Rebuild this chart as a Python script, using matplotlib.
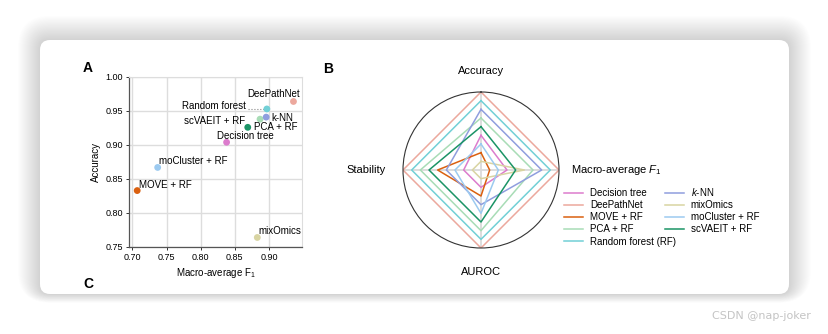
import numpy as np
import matplotlib
matplotlib.use("Agg")
import matplotlib.pyplot as plt
from matplotlib.patches import FancyBboxPatch

plt.rcParams['font.family'] = ['Liberation Sans', 'DejaVu Sans']
plt.rcParams['mathtext.fontset'] = 'custom'
plt.rcParams['mathtext.rm'] = 'Liberation Sans'
plt.rcParams['mathtext.it'] = 'Liberation Sans:italic'

# methods (legend order)
methods = ['Decision tree', 'DeePathNet', 'MOVE + RF', 'PCA + RF', 'Random forest (RF)',
           r'$k$-NN', 'mixOmics', 'moCluster + RF', 'scVAEIT + RF']
short_names = ['Decision tree', 'DeePathNet', 'MOVE + RF', 'PCA + RF', 'Random forest',
               'k-NN', 'mixOmics', 'moCluster + RF', 'scVAEIT + RF']
colors = ['#dc7ccd', '#eca89d', '#da6010', '#a8dcb6', '#72d0d6',
          '#8f9ede', '#d8d4a2', '#9ccaf0', '#1b9466']

# panel A values
macro_f1 = [0.838, 0.936, 0.707, 0.887, 0.897, 0.896, 0.883, 0.737, 0.869]
accuracy = [0.904, 0.964, 0.833, 0.938, 0.953, 0.941, 0.764, 0.867, 0.926]

# panel B: rank scores (1..9) for Accuracy, Macro F1, AUROC, Stability
rank_acc = [4, 9, 2, 6, 8, 7, 1, 3, 5]
rank_f1 = [3, 9, 1, 6, 8, 7, 5, 2, 4]
rank_auroc = [2, 9, 3, 7, 8, 4, 1, 5, 6]
rank_stab = [2, 9, 5, 7, 8, 4, 1, 3, 6]
n_methods = 9

W, H = 829, 334
fig = plt.figure(figsize=(W / 100, H / 100), dpi=100, facecolor='#ffffff')

# background card with soft shadow
bg = fig.add_axes([0, 0, 1, 1], zorder=-10)
bg.set_xlim(0, W)
bg.set_ylim(H, 0)
bg.axis('off')
for i in range(22, 0, -1):
    bg.add_patch(FancyBboxPatch((40 - i, 40 - i * 1.1), 749 + 2 * i, 254 + 1.5 * i,
                                boxstyle='round,pad=0,rounding_size=%d' % (10 + i),
                                facecolor='black', edgecolor='none', alpha=0.008))
bg.add_patch(FancyBboxPatch((40, 40), 749, 254, boxstyle='round,pad=0,rounding_size=10',
                            facecolor='white', edgecolor='none'))
bg.text(811, 316, 'CSDN @nap-joker', fontsize=8, color='#c4c4c4', ha='right', va='center',
        family='DejaVu Sans')

# panel letters
fig.text(83 / W, 1 - 68 / H, 'A', fontsize=10, fontweight='bold', va='center')
fig.text(323 / W, 1 - 69 / H, 'B', fontsize=10, fontweight='bold', va='center')
fig.text(83 / W, 1 - 284 / H, 'C', fontsize=10, fontweight='bold', va='center')

# ---- panel A: scatter ----
ax = fig.add_axes([129 / W, 1 - 247 / H, 173 / W, 170 / H])
ax.scatter(macro_f1, accuracy, c=colors, s=24, edgecolors='none', zorder=3)
ax.set_xlim(0.695, 0.9485)
ax.set_ylim(0.75, 1.0)
ax.set_xticks([0.70, 0.75, 0.80, 0.85, 0.90])
ax.set_yticks([0.75, 0.80, 0.85, 0.90, 0.95, 1.00])
ax.set_xticklabels(['0.70', '0.75', '0.80', '0.85', '0.90'])
ax.set_yticklabels(['0.75', '0.80', '0.85', '0.90', '0.95', '1.00'])
ax.tick_params(labelsize=6.5, length=2.5, width=0.7, pad=2, color='#333333')
ax.grid(True, color='#dddddd', lw=1.0, zorder=0)
ax.set_axisbelow(True)
for s in ['top', 'right']:
    ax.spines[s].set_color('#dddddd')
for s in ['left', 'bottom']:
    ax.spines[s].set_color('#555555')
    ax.spines[s].set_linewidth(0.9)
ax.set_xlabel(r'Macro-average F$_1$', fontsize=7, labelpad=3)
ax.set_ylabel('Accuracy', fontsize=7, labelpad=3)

label_pos = {
    'DeePathNet': (0.946, 0.975, 'right'),
    'Random forest': (0.866, 0.958, 'right'),
    'scVAEIT + RF': (0.865, 0.936, 'right'),
    'k-NN': (0.903, 0.939, 'left'),
    'PCA + RF': (0.878, 0.926, 'left'),
    'Decision tree': (0.8235, 0.9126, 'left'),
    'moCluster + RF': (0.7387, 0.8765, 'left'),
    'MOVE + RF': (0.7093, 0.8416, 'left'),
    'mixOmics': (0.8843, 0.773, 'left'),
}
for name in short_names:
    x, y, ha = label_pos[name]
    ax.text(x, y, name, fontsize=7, ha=ha, va='center', zorder=4)
rf = short_names.index('Random forest')
ax.plot([0.869, macro_f1[rf] - 0.003], [accuracy[rf], accuracy[rf]], ls=':', lw=0.8,
        color='#888888', zorder=2)

# ---- panel B: radar ----
r0 = 78
cx, cy = 481, 170
rax = fig.add_axes([(cx - r0) / W, 1 - (cy + r0) / H, 2 * r0 / W, 2 * r0 / H], projection='polar')
rax.set_theta_offset(np.pi / 2)
rax.set_theta_direction(-1)
rax.set_ylim(0, 1)
rax.set_xticks([])
rax.set_yticks([])
rax.grid(False)
rax.set_facecolor('none')
rax.spines['polar'].set_color('#333333')
rax.spines['polar'].set_linewidth(0.8)
angles = np.array([0, 0.5, 1.0, 1.5]) * np.pi
for a in angles:
    rax.plot([a, a], [0, 1], color='#dadada', lw=1.3, zorder=1)

handles = []
for i, m in enumerate(methods):
    vals = np.array([rank_acc[i], rank_f1[i], rank_auroc[i], rank_stab[i]]) / n_methods
    th = np.append(angles, angles[0])
    rr = np.append(vals, vals[0])
    ln, = rax.plot(th, rr, color=colors[i], lw=1.1, label=m, zorder=2)
    handles.append(ln)

rax.text(0, 1.27, 'Accuracy', fontsize=8, ha='center', va='center')
rax.text(np.pi / 2, 1.16, r'Macro-average $F_1$', fontsize=8, ha='left', va='center')
rax.text(np.pi, 1.31, 'AUROC', fontsize=8, ha='center', va='center')
rax.text(1.5 * np.pi, 1.22, 'Stability', fontsize=8, ha='right', va='center')

fig.legend(handles, methods, ncol=2, loc='upper left',
           bbox_to_anchor=(564 / W, 1 - 186 / H), frameon=False, fontsize=7,
           handlelength=2.0, handletextpad=0.7, columnspacing=-1.2,
           labelspacing=0.22, borderpad=0, borderaxespad=0)

fig.savefig('out.png', dpi=100, facecolor=fig.get_facecolor())
